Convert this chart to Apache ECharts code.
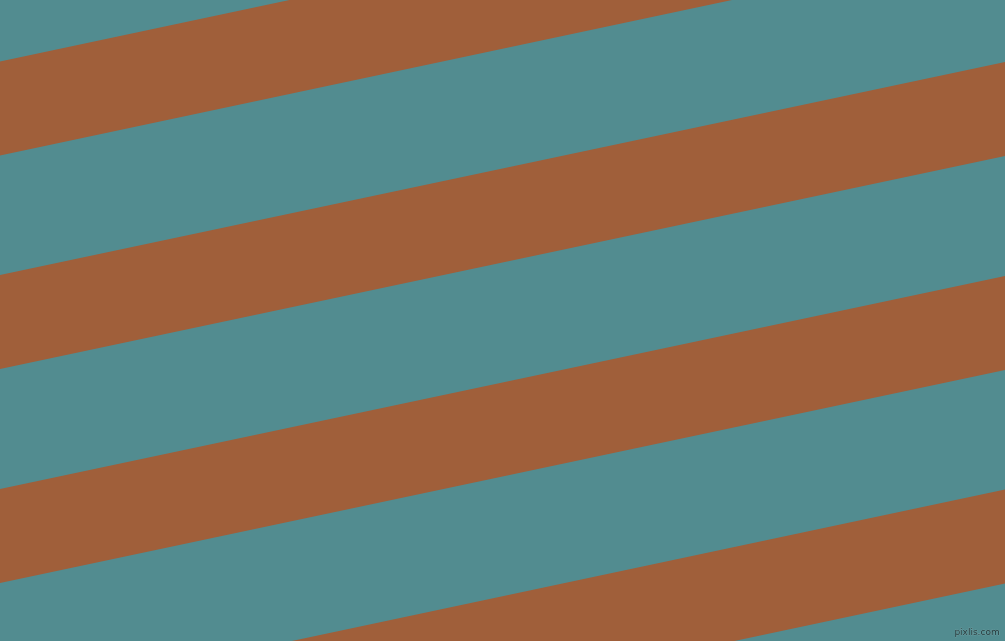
<!DOCTYPE html>
<html>
<head>
<meta charset="utf-8">
<script src="https://cdn.jsdelivr.net/npm/echarts@6/dist/echarts.min.js"></script>
<style>html,body{margin:0;padding:0;background:#528c90;}#c{width:1005px;height:641px;}</style>
</head>
<body>
<div id="c"></div>
<script>
// Brown stripe boundaries: y of top edge at left (x=0) and at right (x=1005)
const stripeTopLeft = [61.5, 275, 489, 703];
const stripeTopRight = [-152, 62, 276, 489.5];
const stripeThickness = [94, 94, 94, 94];
const xExtent = [0, 1005];
const yExtent = [0, 641];
const watermark = 'pixlis.com';

const data = stripeTopLeft.map((t, i) => [t, stripeTopRight[i], stripeThickness[i]]);

const chart = echarts.init(document.getElementById('c'), null, {renderer: 'canvas'});
chart.setOption({
  backgroundColor: '#528c90',
  animation: false,
  grid: {left: 0, right: 0, top: 0, bottom: 0},
  xAxis: {type: 'value', min: xExtent[0], max: xExtent[1], show: false},
  yAxis: {type: 'value', min: yExtent[0], max: yExtent[1], inverse: true, show: false},
  series: [{
    type: 'custom',
    clip: true,
    data: data,
    renderItem: function (params, api) {
      const tl = api.value(0), tr = api.value(1), h = api.value(2);
      const pts = [
        api.coord([xExtent[0], tl]),
        api.coord([xExtent[1], tr]),
        api.coord([xExtent[1], tr + h]),
        api.coord([xExtent[0], tl + h])
      ];
      return {
        type: 'polygon',
        shape: {points: pts},
        style: {fill: '#a05f3a'}
      };
    }
  }],
  graphic: [{
    type: 'text',
    right: 5,
    bottom: 4,
    style: {text: watermark, fill: '#22393b', stroke: '#7fa9ac', lineWidth: 0.6, font: '9px "DejaVu Sans"'}
  }]
});
</script>
</body>
</html>
